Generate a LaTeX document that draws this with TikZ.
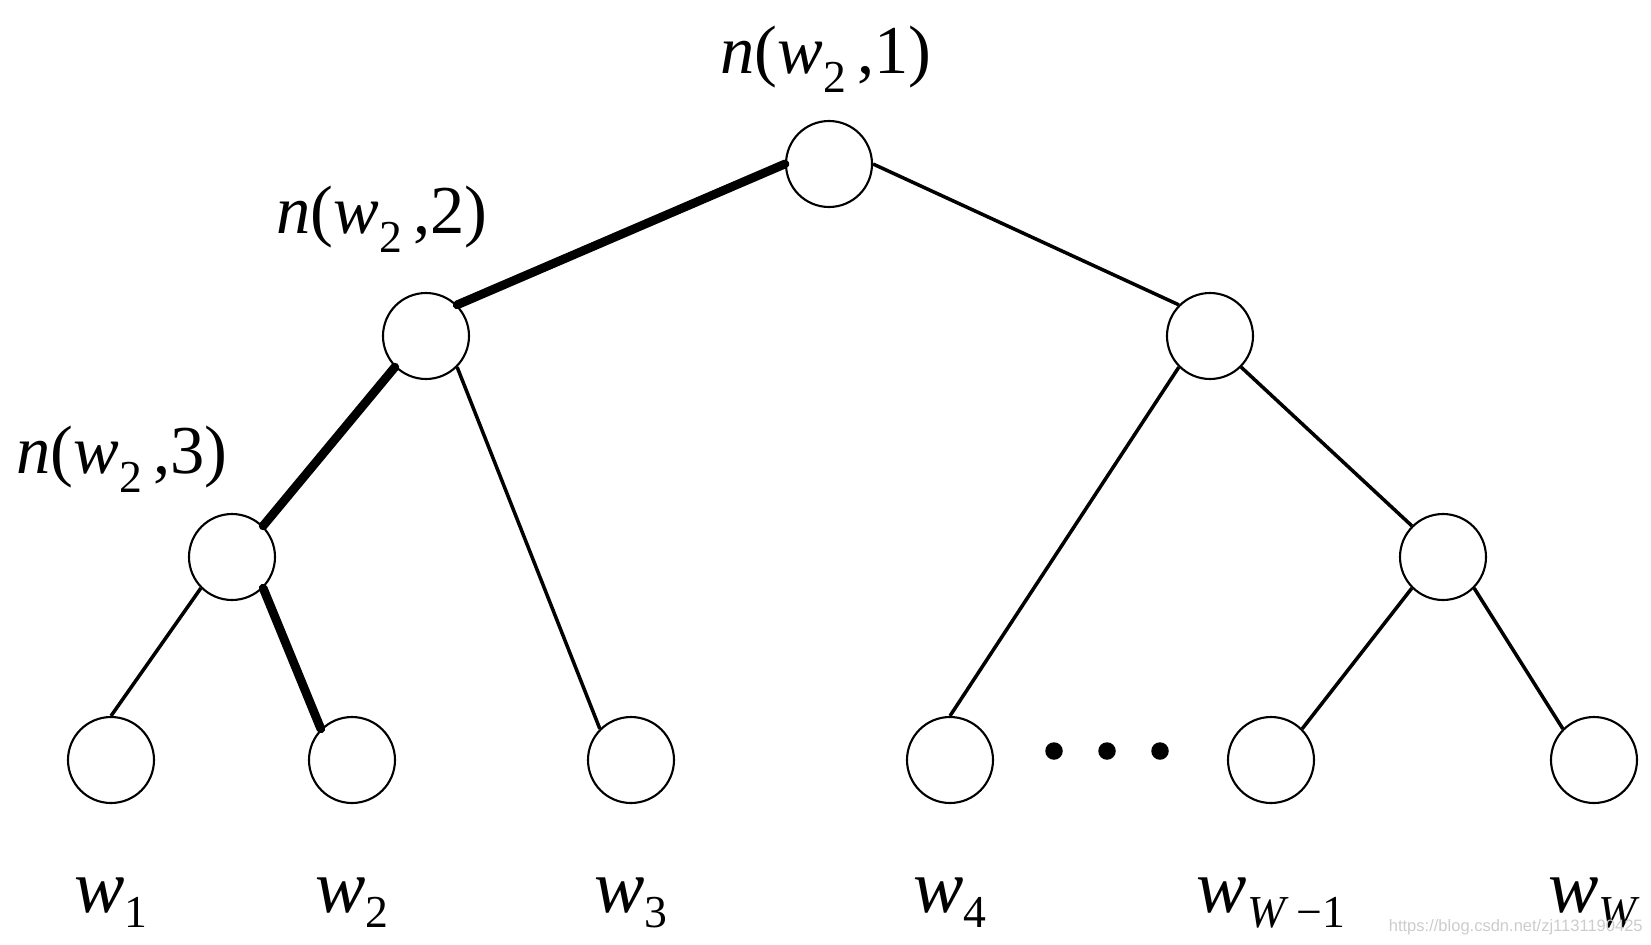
\documentclass[tikz,border=0pt]{standalone}
\usepackage{fontspec}
\setmainfont{Liberation Serif}
\setsansfont{Liberation Sans}
\newcommand\lsub[2][0.28em]{\raisebox{-#1}{\fontsize{26}{26}\selectfont #2}}

\begin{document}
\begin{tikzpicture}[x=0.2mm, y=-0.2mm, vert/.style = {draw, circle, line width=1.2pt, minimum size=17.2mm, inner sep=0pt}, edge/.style = {line width=2pt}, route/.style = {line width=5pt, line cap=round}, lab/.style = {font=\fontsize{39}{40}\selectfont, inner sep=0pt, anchor=base}, leaf/.style = {lab, font=\fontsize{43}{44}\selectfont}, dot/.style = {circle, fill, minimum size=3.5mm, inner sep=0pt}]

    \useasboundingbox (0,0) rectangle (1651,945);

    \node[vert] (r) at (829,164) {};
    \node[vert] (a) at (426,336) {};
    \node[vert] (b) at (1210,336) {};
    \node[vert] (a2) at (232,557) {};
    \node[vert] (b2) at (1443,557) {};
    \node[vert] (l1) at (111,760) {};
    \node[vert] (l2) at (352,760) {};
    \node[vert] (l3) at (631,760) {};
    \node[vert] (l4) at (950,760) {};
    \node[vert] (l5) at (1271,760) {};
    \node[vert] (l6) at (1594,760) {};

    \node[dot] (d1) at (1054,751) {};
    \node[dot] (d2) at (1107,751) {};
    \node[dot] (d3) at (1160,751) {};

    \draw[route] (r.west) -- (a.north east);
    \draw[edge] (r.east) -- (b.north west);
    \draw[route] (a.south west) -- (a2.north east);
    \draw[edge] (a.south east) -- (l3.north west);
    \draw[edge] (a2.south west) -- (l1.north);
    \draw[route] (a2.south east) -- (l2.north west);
    \draw[edge] (b.south west) -- (l4.north);
    \draw[edge] (b.south east) -- (b2.north west);
    \draw[edge] (b2.south west) -- (l5.north east);
    \draw[edge] (b2.south east) -- (l6.north west);

    \node[lab] (nr) at (826,73) {\textit{n}(\textit{w}\lsub{2}\,,1)};
    \node[lab] (na) at (382,233) {\textit{n}(\textit{w}\lsub{2}\,,2)};
    \node[lab] (na2) at (122,473) {\textit{n}(\textit{w}\lsub{2}\,,3)};

    \node[leaf] (w1) at (111,912) {\textit{w}\lsub[0.2em]{1}};
    \node[leaf] (w2) at (352,912) {\textit{w}\lsub[0.2em]{2}};
    \node[leaf] (w3) at (631,912) {\textit{w}\lsub[0.2em]{3}};
    \node[leaf] (w4) at (950,912) {\textit{w}\lsub[0.2em]{4}};
    \node[leaf] (w5) at (1271,912) {\textit{w}\lsub[0.2em]{\textit{W}\,−1}};
    \node[leaf] (w6) at (1594,912) {\textit{w}\lsub[0.2em]{\textit{W}}};

    \node[font=\sffamily\fontsize{9.4}{10}\selectfont, text=gray!40, anchor=east, inner sep=0pt] (mark) at (1643,927) {https://blog.csdn.net/zj1131190425};

\end{tikzpicture}
\end{document}
